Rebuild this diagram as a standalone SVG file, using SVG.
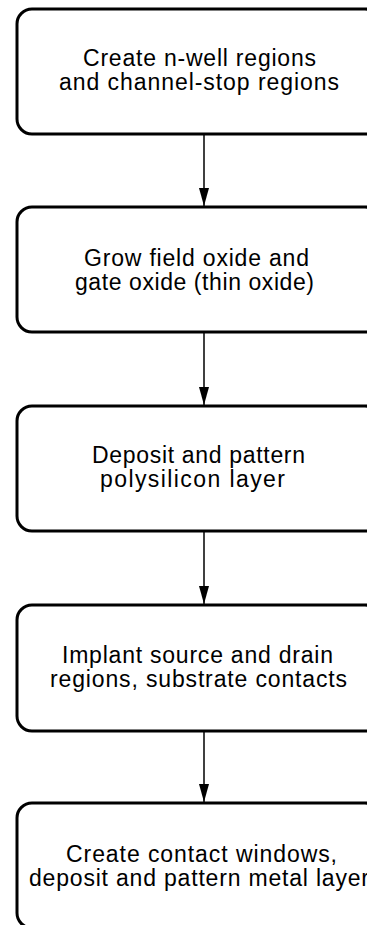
<svg xmlns="http://www.w3.org/2000/svg" width="367" height="925" viewBox="0 0 367 925">
<style>
.box{fill:#fff;stroke:#000;stroke-width:3}
.lbl{font-family:"Liberation Sans",Arial,sans-serif;font-size:23px;fill:#000}
.conn{stroke:#000;stroke-width:1.5;fill:none}
</style>
<defs>
<marker id="ah" markerUnits="userSpaceOnUse" markerWidth="20" markerHeight="12" viewBox="0 0 20 12" refX="19" refY="6" orient="auto">
<path d="M1,1 L19,6 L1,11 Z" fill="#000"/>
</marker>
</defs>
<rect width="367" height="925" fill="#fff"/>
<g id="connectors">
<path class="conn" d="M204,134 V206" marker-end="url(#ah)"/>
<path class="conn" d="M204,332 V405" marker-end="url(#ah)"/>
<path class="conn" d="M204,531 V604" marker-end="url(#ah)"/>
<path class="conn" d="M204,731 V802" marker-end="url(#ah)"/>
</g>
<g id="n1">
<rect class="box" x="17" y="9" width="363" height="125" rx="15"/>
<text class="lbl" x="83" y="66" textLength="233" lengthAdjust="spacing">Create n-well regions</text>
<text class="lbl" x="59" y="90" textLength="280" lengthAdjust="spacing">and channel-stop regions</text>
</g>
<g id="n2">
<rect class="box" x="17" y="207" width="363" height="125" rx="15"/>
<text class="lbl" x="84" y="266" textLength="225" lengthAdjust="spacing">Grow field oxide and</text>
<text class="lbl" x="75" y="290" textLength="239" lengthAdjust="spacing">gate oxide (thin oxide)</text>
</g>
<g id="n3">
<rect class="box" x="17" y="406" width="363" height="125" rx="15"/>
<text class="lbl" x="92" y="463" textLength="213" lengthAdjust="spacing">Deposit and pattern</text>
<text class="lbl" x="100" y="487" textLength="185" lengthAdjust="spacing">polysilicon layer</text>
</g>
<g id="n4">
<rect class="box" x="17" y="605" width="363" height="126" rx="15"/>
<text class="lbl" x="62" y="663" textLength="271" lengthAdjust="spacing">Implant source and drain</text>
<text class="lbl" x="50" y="687" textLength="297" lengthAdjust="spacing">regions, substrate contacts</text>
</g>
<g id="n5">
<rect class="box" x="17" y="803" width="363" height="125" rx="15"/>
<text class="lbl" x="66" y="862" textLength="271" lengthAdjust="spacing">Create contact windows,</text>
<text class="lbl" x="29" y="886" textLength="340" lengthAdjust="spacing">deposit and pattern metal layer</text>
</g>
</svg>
